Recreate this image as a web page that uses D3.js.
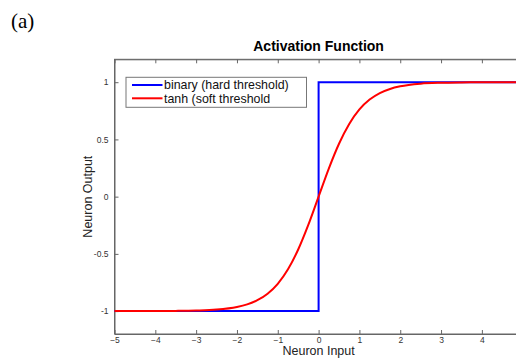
<!doctype html>
<html>
  <head>
    <meta charset="utf-8">
    <title>Activation Function</title>
    <script src="https://cdnjs.cloudflare.com/ajax/libs/d3/7.8.5/d3.min.js"></script>
    <style>
      body { margin: 0; background: #fff; }
      text { font-family: "Liberation Sans", Arial, sans-serif; }
    </style>
  </head>
  <body>
    <div id="chart"></div>
    <script>
    // data
    const xTicks = [-5, -4, -3, -2, -1, 0, 1, 2, 3, 4];
    const yTicks = [-1, -0.5, 0, 0.5, 1];
    const yTickLabels = ['-1', '-0.5', '0', '0.5', '1'];

    // binary (hard threshold)
    const binaryX = [-5, 0, 0, 5];
    const binaryY = [-1, -1, 1, 1];

    // tanh (soft threshold)
    const tanhX = [-5, -4, -3.5, -3, -2.5, -2, -1.75, -1.5, -1.25, -1, -0.75, -0.5, -0.25,
                   0, 0.25, 0.5, 0.75, 1, 1.25, 1.5, 1.75, 2, 2.5, 3, 3.5, 4, 5];
    const tanhY = [-1, -0.999, -0.998, -0.995, -0.987, -0.964, -0.941, -0.905, -0.848, -0.762, -0.635, -0.462, -0.245,
                   0, 0.245, 0.462, 0.635, 0.762, 0.848, 0.905, 0.941, 0.964, 0.987, 0.995, 0.998, 0.999, 1];

    const legendLabels = ['binary (hard threshold)', 'tanh (soft threshold'];
    const colors = ['#0000ff', '#ff0000'];

    const width = 516, height = 358;
    const svg = d3.select('#chart').append('svg')
      .attr('width', width)
      .attr('height', height);

    const x = d3.scaleLinear().domain([-5, 5]).range([114.5, 522.7]);
    const y = d3.scaleLinear().domain([-1.2, 1.2]).range([334, 59.3]);

    const axisColor = '#666';
    const tickLen = 4;

    // frame
    svg.append('rect')
      .attr('x', x(-5)).attr('y', y(1.2))
      .attr('width', x(5) - x(-5)).attr('height', y(-1.2) - y(1.2))
      .attr('fill', 'none').attr('stroke', axisColor).attr('stroke-width', 1);

    // bottom axis, ticks inward
    const xAxis = svg.append('g')
      .attr('transform', `translate(0,${y(-1.2)})`)
      .call(d3.axisBottom(x).tickValues(xTicks).tickSizeInner(-tickLen).tickSizeOuter(0).tickPadding(3));
    // top ticks
    const xTop = svg.append('g')
      .attr('transform', `translate(0,${y(1.2)})`)
      .call(d3.axisTop(x).tickValues(xTicks).tickSizeInner(-tickLen).tickSizeOuter(0).tickFormat(''));
    // left axis
    const yAxis = svg.append('g')
      .attr('transform', `translate(${x(-5)},0)`)
      .call(d3.axisLeft(y).tickValues(yTicks).tickSizeInner(-tickLen).tickSizeOuter(0).tickPadding(6)
        .tickFormat((d, i) => yTickLabels[i]));

    [xAxis, xTop, yAxis].forEach(g => {
      g.select('.domain').attr('stroke', axisColor);
      g.selectAll('.tick line').attr('stroke', axisColor);
      g.selectAll('.tick text')
        .attr('fill', '#333')
        .style('font-size', '8.5px')
        .style('font-family', '"Liberation Sans", Arial, sans-serif');
    });

    const line = d3.line()
      .x(d => x(d[0]))
      .y(d => y(d[1]));

    svg.append('path')
      .datum(binaryX.map((v, i) => [v, binaryY[i]]))
      .attr('d', line)
      .attr('fill', 'none')
      .attr('stroke', colors[0])
      .attr('stroke-width', 2);

    svg.append('path')
      .datum(tanhX.map((v, i) => [v, tanhY[i]]))
      .attr('d', line.curve(d3.curveMonotoneX))
      .attr('fill', 'none')
      .attr('stroke', colors[1])
      .attr('stroke-width', 2);

    // legend
    svg.append('rect')
      .attr('x', 126).attr('y', 77.3)
      .attr('width', 180.5).attr('height', 30)
      .attr('fill', '#fff').attr('stroke', '#777').attr('stroke-width', 1);

    const leg = svg.selectAll('.legend-item')
      .data(legendLabels)
      .join('g')
      .attr('class', 'legend-item')
      .attr('transform', (d, i) => `translate(0,${85 + i * 13.3})`);

    leg.append('line')
      .attr('x1', 132).attr('x2', 162.5)
      .attr('stroke', (d, i) => colors[i]).attr('stroke-width', 2);

    leg.append('text')
      .attr('x', 164).attr('y', 4.3)
      .text(d => d)
      .style('font-size', '12.4px')
      .attr('fill', '#111');

    // title and labels
    svg.append('text')
      .attr('x', x(0)).attr('y', 51)
      .attr('text-anchor', 'middle')
      .style('font-size', '14px').attr('font-weight', 700)
      .text('Activation Function');

    svg.append('text')
      .attr('x', x(0)).attr('y', 355)
      .attr('text-anchor', 'middle')
      .style('font-size', '12.5px').attr('fill', '#222')
      .text('Neuron Input');

    svg.append('text')
      .attr('transform', `translate(92,${y(0)}) rotate(-90)`)
      .attr('text-anchor', 'middle')
      .style('font-size', '12.5px').attr('fill', '#222')
      .text('Neuron Output');

    svg.append('text')
      .attr('x', 11).attr('y', 28)
      .style('font-family', '"Liberation Serif", "Times New Roman", serif')
      .style('font-size', '21px')
      .text('(a)');
    </script>
  </body>
</html>
